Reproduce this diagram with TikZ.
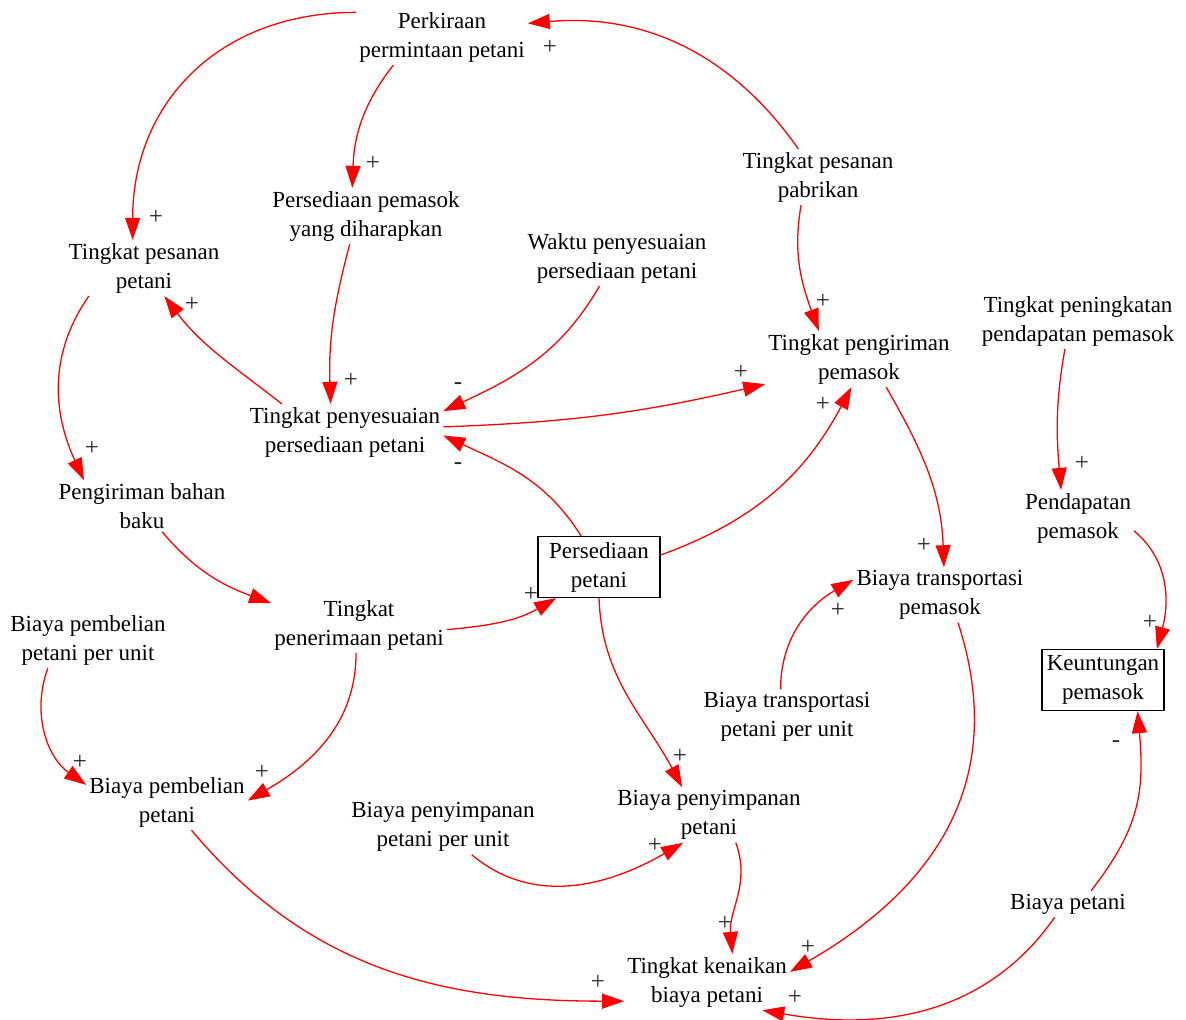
\documentclass[tikz,border=0pt]{standalone}
\usepackage{fontspec}
\setmainfont{Liberation Serif}
\usetikzlibrary{arrows.meta}

\begin{document}
\begin{tikzpicture}[x=1pt,y=1pt,
      every node/.style={font=\fontsize{23}{29}\selectfont},
      var/.style={align=center,inner sep=3pt},
      stock/.style={draw,line width=1.2pt,align=center,minimum width=122pt,minimum height=61pt,inner sep=2pt},
      link/.style={red,line width=1.3pt,-{Triangle[length=22pt,width=15pt]}},
      sgn/.style={font=\fontsize{25}{25}\selectfont,text=black!85,inner sep=0pt}]
    \useasboundingbox (0,0) rectangle (1186,-1020);
    % Variables
    \node[var] (perk)     at (442,-37)  {Perkiraan\\permintaan petani};
    \node[var] (pesfab)   at (818,-177) {Tingkat pesanan\\pabrikan};
    \node[var] (pesptn)   at (144,-268) {Tingkat pesanan\\petani};
    \node[var] (perspem)  at (366,-216) {Persediaan pemasok\\yang diharapkan};
    \node[var] (waktu)    at (617,-258) {Waktu penyesuaian\\persediaan petani};
    \node[var] (penyes)   at (345,-432) {Tingkat penyesuaian\\persediaan petani};
    \node[var] (kirpem)   at (859,-359) {Tingkat pengiriman\\pemasok};
    \node[var] (ningkat)  at (1078,-321){Tingkat peningkatan\\pendapatan pemasok};
    \node[var] (kirbahan) at (142,-506) {Pengiriman bahan\\baku};
    \node[var] (pendpem)  at (1078,-518){Pendapatan\\pemasok};
    \node[var] (terima)   at (359,-625) {Tingkat\\penerimaan petani};
    \node[var] (transpem) at (940,-595) {Biaya transportasi\\pemasok};
    \node[var] (belunit)  at (88,-640)  {Biaya pembelian\\petani per unit};
    \node[var] (transunit)at (787,-717) {Biaya transportasi\\petani per unit};
    \node[var] (beli)     at (167,-802) {Biaya pembelian\\petani};
    \node[var] (simpan)   at (709,-815) {Biaya penyimpanan\\petani};
    \node[var] (simpunit) at (443,-827) {Biaya penyimpanan\\petani per unit};
    \node[var] (biayaptn) at (1068,-904){Biaya petani};
    \node[var] (naik)     at (707,-982) {Tingkat kenaikan\\biaya petani};
    % Stocks
    \node[stock] (persptn) at (599,-567) {Persediaan\\petani};
    \node[stock] (keunt)   at (1103,-680){Keuntungan\\pemasok};
    % Links
    \draw[link] (perk.164) to[out=180,in=90,looseness=1.1] (pesptn.112);
    \draw[link] (perk.210) to[out=232,in=88] (perspem.116);
    \draw[link] (pesfab.125) to[out=125,in=5] (perk.9);
    \draw[link] (pesfab.239) to[out=260,in=110] (kirpem.145);
    \draw[link] (perspem.240) to[out=255,in=92] (penyes.117);
    \draw[link] (waktu.238) to[out=240,in=25] (penyes.12);
    \draw[link] (penyes.156) to[out=142,in=307] (pesptn.306);
    \draw[link] (penyes.3) to[out=2,in=193] (kirpem.195);
    \draw[link] (pesptn.207) to[out=235,in=115] (kirbahan.156);
    \draw[link] (persptn.120) to[out=122,in=335] (penyes.358);
    \draw[link] (persptn.11) to[out=20,in=242] (kirpem.255);
    \draw[link] (ningkat.245) to[out=260,in=95] (pendpem.121);
    \draw[link] (kirbahan.308) to[out=-50,in=160] (terima.166);
    \draw[link] (terima.357) to[out=5,in=210] (persptn.216);
    \draw[link] (terima.264) to[out=270,in=30] (beli.1);
    \draw[link] (kirpem.314) to[out=-60,in=92] (transpem.82);
    \draw[link] (pendpem.347) to[out=-40,in=75] (keunt.30);
    \draw[link] (transunit.103) to[out=90,in=210] (transpem.170);
    \draw[link] (belunit.215) to[out=250,in=145] (beli.168);
    \draw[link] (persptn.270) to[out=272,in=118] (simpan.134);
    \draw[link] (biayaptn.30) to[out=52,in=275,looseness=1.1] (keunt.318);
    \draw[link] (biayaptn.225) to[out=235,in=-10] (naik.333);
    \draw[link] (transpem.303) to[out=-72,in=30,looseness=1.1] (naik.7);
    \draw[link] (simpunit.316) to[out=-40,in=210] (simpan.227);
    \draw[link] (simpan.314) to[out=-70,in=95] (naik.48);
    \draw[link] (beli.311) to[out=-50,in=180] (naik.193);
    % Polarities
    \node[sgn] (s1)  at (156,-217) {+};
    \node[sgn] (s2)  at (373,-163) {+};
    \node[sgn] (s3)  at (550,-47)  {+};
    \node[sgn] (s4)  at (823,-301) {+};
    \node[sgn] (s5)  at (351,-380) {+};
    \node[sgn] (s6)  at (458,-386) {-};
    \node[sgn] (s7)  at (192,-304) {+};
    \node[sgn] (s8)  at (741,-372) {+};
    \node[sgn] (s9)  at (92,-448)  {+};
    \node[sgn] (s10) at (458,-466) {-};
    \node[sgn] (s11) at (823,-404) {+};
    \node[sgn] (s12) at (1082,-463){+};
    \node[sgn] (s14) at (531,-594) {+};
    \node[sgn] (s15) at (924,-545) {+};
    \node[sgn] (s16) at (1150,-622){+};
    \node[sgn] (s17) at (838,-610) {+};
    \node[sgn] (s18) at (80,-762)  {+};
    \node[sgn] (s19) at (262,-772) {+};
    \node[sgn] (s20) at (680,-756) {+};
    \node[sgn] (s21) at (1116,-744){-};
    \node[sgn] (s22) at (808,-947) {+};
    \node[sgn] (s23) at (655,-845) {+};
    \node[sgn] (s24) at (725,-923) {+};
    \node[sgn] (s25) at (598,-982) {+};
    \node[sgn] (s26) at (795,-997) {+};
  \end{tikzpicture}
\end{document}
